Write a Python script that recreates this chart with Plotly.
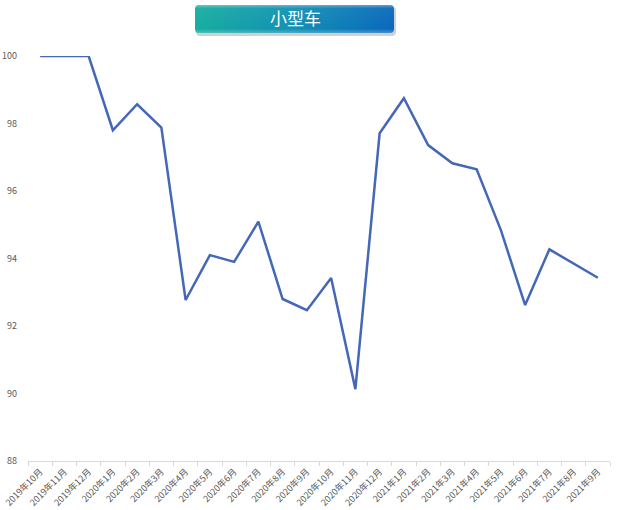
import base64
import plotly.graph_objects as go

months = ["2019年10月", "2019年11月", "2019年12月", "2020年1月", "2020年2月", "2020年3月",
          "2020年4月", "2020年5月", "2020年6月", "2020年7月", "2020年8月", "2020年9月",
          "2020年10月", "2020年11月", "2020年12月", "2021年1月", "2021年2月", "2021年3月",
          "2021年4月", "2021年5月", "2021年6月", "2021年7月", "2021年8月", "2021年9月"]
values = [100.0, 100.0, 100.0, 97.80, 98.57, 97.88,
          92.77, 94.10, 93.90, 95.09, 92.80, 92.47,
          93.42, 90.13, 97.71, 98.75, 97.36, 96.82,
          96.64, 94.84, 92.62, 94.27, 93.86, 93.43]
y_ticks = [88, 90, 92, 94, 96, 98, 100]
title_text = "小型车"

svg = """<svg xmlns='http://www.w3.org/2000/svg' width='206' height='34' viewBox='0 0 206 34'>
<defs>
<linearGradient id='g' x1='0' y1='0' x2='1' y2='0'>
<stop offset='0' stop-color='#17ada0'/>
<stop offset='0.5' stop-color='#1190b4'/>
<stop offset='1' stop-color='#0a68bc'/>
</linearGradient>
<linearGradient id='h' x1='0' y1='0' x2='0' y2='1'>
<stop offset='0' stop-color='#ffffff' stop-opacity='0.35'/>
<stop offset='0.12' stop-color='#ffffff' stop-opacity='0.05'/>
<stop offset='0.85' stop-color='#ffffff' stop-opacity='0'/>
<stop offset='1' stop-color='#ffffff' stop-opacity='0.25'/>
</linearGradient>
</defs>
<rect x='2' y='3' width='200' height='29' rx='4' fill='#000' fill-opacity='0.18'/>
<rect x='1' y='1' width='199' height='28' rx='4' fill='url(#g)'/>
<rect x='1' y='1' width='199' height='28' rx='4' fill='url(#h)'/>
</svg>"""
src = "data:image/svg+xml;base64," + base64.b64encode(svg.encode()).decode()

PLOT_L, PLOT_T, PLOT_W, PLOT_H = 28, 56, 582, 405

fig = go.Figure()
fig.add_trace(go.Scatter(
    x=months, y=values, mode="lines",
    line=dict(color="#4567b7", width=2.5),
    cliponaxis=False, hoverinfo="x+y",
))

fig.add_layout_image(dict(
    source=src, xref="paper", yref="paper", layer="above",
    x=(194 - PLOT_L) / PLOT_W, y=1 + (PLOT_T - 4) / PLOT_H,
    sizex=206 / PLOT_W, sizey=34 / PLOT_H, xanchor="left", yanchor="top",
    sizing="stretch",
))
fig.add_annotation(
    text=title_text, xref="paper", yref="paper",
    x=(295 - PLOT_L) / PLOT_W, y=1 + (PLOT_T - 18) / PLOT_H,
    showarrow=False, xanchor="center", yanchor="middle",
    font=dict(family="Noto Sans CJK SC", size=17, color="#ffffff"),
)

fig.update_layout(
    width=620, height=510,
    margin=dict(l=PLOT_L, r=620 - PLOT_L - PLOT_W, t=PLOT_T, b=510 - PLOT_T - PLOT_H,
                autoexpand=False),
    paper_bgcolor="#ffffff", plot_bgcolor="#ffffff",
    showlegend=False,
    xaxis=dict(
        type="category", range=[-0.5, 23.5], tickson="boundaries",
        ticks="outside", ticklen=4, tickcolor="#d9d9d9",
        showline=True, linecolor="#d9d9d9", linewidth=1,
        showgrid=False, zeroline=False,
        tickangle=-45, automargin=False, ticklabelstandoff=1,
        tickfont=dict(family="Noto Sans CJK SC", size=9, color="#595959"),
    ),
    yaxis=dict(
        range=[88, 100], tickvals=y_ticks, showgrid=False, zeroline=False,
        showline=False, automargin=False, ticks="", ticklabelstandoff=10,
        tickfont=dict(family="Noto Sans CJK SC", size=9, color="#595959"),
    ),
)

fig.write_html("out.html", config={"displayModeBar": False},
               post_script="document.body.style.margin='0';document.body.style.overflow='hidden';")
